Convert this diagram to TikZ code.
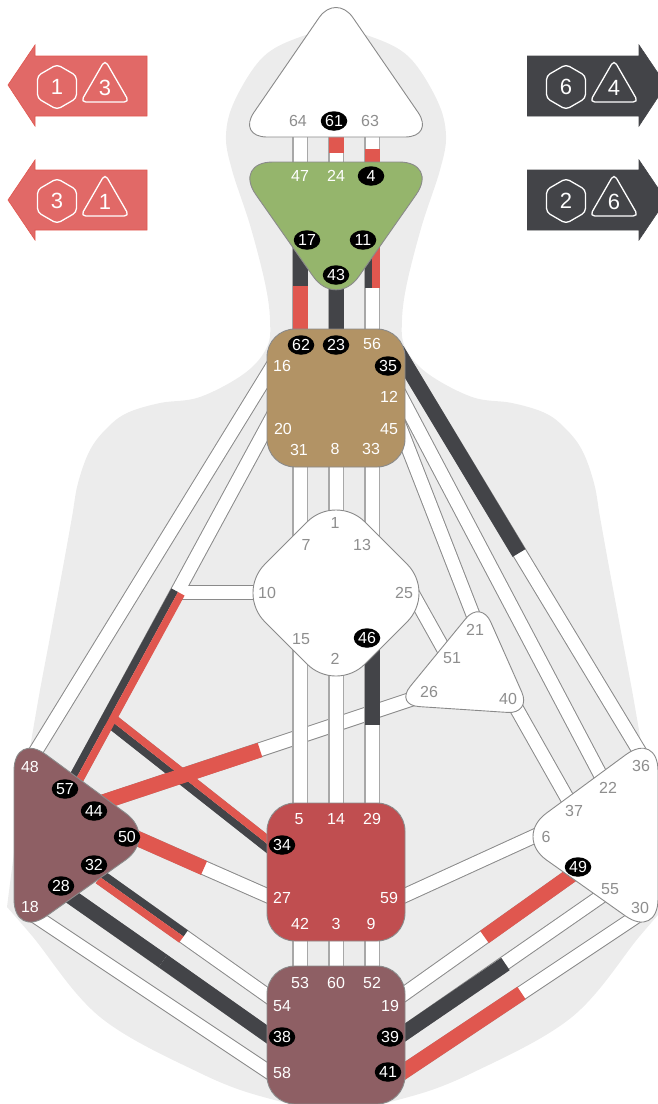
\documentclass[tikz,border=0pt]{standalone}
\usepackage{fontspec}
\setmainfont{Liberation Sans}
\usetikzlibrary{calc,shapes.geometric}
\definecolor{bodybg}{HTML}{ECECEC}
\definecolor{rim}{HTML}{8A8A8A}
\definecolor{softrim}{HTML}{A8A8A8}
\definecolor{dimtext}{HTML}{8E8E8E}
\definecolor{redact}{HTML}{E0574F}
\definecolor{inkact}{HTML}{434448}
\definecolor{ajnagreen}{HTML}{95B56C}
\definecolor{throatbrown}{HTML}{B29365}
\definecolor{sacralred}{HTML}{C04E50}
\definecolor{rootmauve}{HTML}{8E5F64}
\definecolor{crossred}{HTML}{E16967}
\tikzset{
  chanedge/.style ={draw=rim, line width=15pt},
  chanfill/.style ={draw=white, line width=13pt},
  vertedge/.style ={draw=softrim, line width=15.4pt},
  actfull/.style  ={line width=15pt},
  acthalf/.style  ={line width=7.5pt},
  centre/.style   ={draw=rim, line width=0.9pt, rounded corners=#1},
  blockc/.style   ={draw=rim, line width=0.9pt, rounded corners=28pt,
                    minimum size=138pt, inner sep=0pt},
  gate/.style     ={font=\fontsize{16}{16}\selectfont, inner sep=0pt, text=dimtext},
  gatew/.style    ={gate, text=white},
  gateb/.style    ={gate, text=white, fill=black, ellipse, minimum width=26.5pt,
                    minimum height=19.5pt},
  hexbadge/.style ={draw=white, line width=1.3pt, regular polygon, regular polygon sides=6,
                    shape border rotate=30, minimum size=45pt, inner sep=0pt,
                    rounded corners=4pt, text=white, font=\fontsize{22}{22}\selectfont},
  tribadge/.style ={draw=white, line width=1.3pt, regular polygon, regular polygon sides=3,
                    minimum size=56pt, inner sep=0pt, rounded corners=5pt, text=white,
                    font=\fontsize{22}{22}\selectfont},
  redarrow/.style ={fill=crossred, draw=redact, line width=0.6pt},
  inkarrow/.style ={fill=inkact, draw=inkact, line width=0.6pt},
}
\newcommand{\fullact}[3]{\draw[actfull, draw=#1] (#2) -- (#3);}
\newcommand{\halfact}[4]{
  \draw[acthalf, draw=#1] ($(#3)!3.75pt!90:(#4)$) -- ($(#4)!3.75pt!-90:(#3)$);
  \draw[acthalf, draw=#2] ($(#3)!3.75pt!-90:(#4)$) -- ($(#4)!3.75pt!90:(#3)$);
}
\begin{document}
\begin{tikzpicture}[x=1pt,y=-1pt]
  \useasboundingbox (0,0) rectangle (658,1104);
  % body outline
  \fill[bodybg] plot[smooth, tension=0.6] coordinates {(7,907) (20,810) (37,707) (50,637) (63,567) (72,517)
      (78,483) (90,450) (107,428) (127,413) (160,403) (200,397) (245,373) (267,347) (270,320)
      (265,283) (250,225) (232,170) (226,135)
      (235,100) (263,57) (300,37) (336,30) (372,37) (409,57) (437,100) (446,135) (440,170)
      (422,225) (407,283) (402,320) (405,347) (427,373) (472,397) (512,403) (545,413) (565,428)
      (582,450) (594,483) (600,517) (609,567) (622,637) (635,707) (652,810) (665,907)}
    -- plot[smooth, tension=0.6] coordinates {(665,907) (639,937) (572,1017) (472,1073) (405,1098) (336,1110)
      (267,1098) (200,1073) (100,1017) (33,937) (7,907)} -- cycle;

  % channel ends, inside the centres
  \foreach \n/\x/\y in {p64/300/130, p47/300/170, p61/336/130, p24/336/170, p63/372/130, p4/372/170,
      p17/300/240, p62/300/335, p43/336/280, p23/336/335, p11/372/240, p56/372/335,
      p31/300/460, p7/300/545, p8/336/460, p1/336/520, p33/372/460, p13/372/545,
      p15/300/640, p5/300/810, p2/336/665, p14/336/810, p46/372/640, p29/372/810,
      p42/300/935, p53/300/975, p3/336/935, p60/336/975, p9/372/935, p52/372/975,
      p16/275/362, p48/31/759, p20/275/412, p57/72/786, p10/260/592, p34/275/850,
      p44/100/803, p26/418/697, p50/135/837.4, p27/275/899, p32/100/877, p54/275/1001,
      p28/70/896, p38/275/1040, p18/35/916, p58/275/1076,
      p59/397/899, p6/537/835, p49/575/872.5, p19/396/999.7, p55/605/893.6, p39/397/1038,
      p30/637/916, p41/397/1076, p35/397/350, p36/644/759, p12/397/389, p22/604/781.6,
      p45/397/419.5, p21/477/625, p25/405/580, p51/448/657, p37/575/812, p40/510/697,
      jc10/178/592, jc34/105/716,
      e61/336/153, e4/372/149, e17/300/286, e11/372/288, e46/372/725, e57/178/592,
      e44/260/750, e50/204/868, e32/183.5/936.5, e49/484.5/937, e39/505.5/964, e41/521.5/993,
      e35/519/553, e28/163/961}
    \coordinate (\n) at (\x,\y);

  % channels: rims first, then the white, so that crossing ones merge
  \draw[chanedge] (p44) -- (p26);
  \draw[chanfill] (p44) -- (p26);
  \foreach \pass in {chanedge,chanfill}
    \foreach \a/\b in {p16/p48, p20/p57, p10/jc10, p34/jc34, p50/p27, p32/p54, p28/p38, p18/p58,
        p59/p6, p49/p19, p55/p39, p30/p41, p35/p36, p12/p22, p45/p21, p25/p51, p37/p40}
      \draw[\pass] (\a) -- (\b);
  \foreach \a/\b in {p64/p47, p61/p24, p63/p4, p17/p62, p43/p23, p11/p56,
      p31/p7, p8/p1, p33/p13, p15/p5, p2/p14, p46/p29, p42/p53, p3/p60, p9/p52}{
    \draw[vertedge] (\a) -- (\b);
    \draw[chanfill] (\a) -- (\b);
  }

  % activations
  \fullact{redact}{p61}{e61}
  \fullact{redact}{p4}{e4}
  \fullact{inkact}{p17}{e17}
  \fullact{redact}{p62}{e17}
  \fullact{inkact}{p43}{p23}
  \halfact{redact}{inkact}{p11}{e11}
  \fullact{inkact}{p46}{e46}
  \fullact{inkact}{p35}{e35}
  \halfact{inkact}{redact}{p34}{jc34}
  \halfact{inkact}{redact}{p57}{e57}
  \fullact{redact}{p44}{e44}
  \fullact{redact}{p50}{e50}
  \halfact{inkact}{redact}{p32}{e32}
  \fullact{inkact}{p28}{e28}
  \fullact{inkact}{p38}{e28}
  \fullact{redact}{p49}{e49}
  \fullact{inkact}{p39}{e39}
  \fullact{redact}{p41}{e41}

  % centres
  \draw[centre=30pt, fill=white] (237,137) -- (336,-7) -- (435,137) -- cycle;
  \draw[centre=40pt, fill=ajnagreen] (233,162) -- (439,162) -- (336,309) -- cycle;
  \node[blockc, fill=throatbrown] (throat) at (336,398) {};
  \draw[centre=41pt, fill=white] (336,493) -- (436,593) -- (336,693) -- (236,593) -- cycle;
  \draw[centre=24pt, fill=white] (481,600) -- (531.5,714) -- (395,705) -- cycle;
  \node[blockc, fill=sacralred] (sacral) at (336,872) {};
  \node[blockc, fill=rootmauve] (root) at (336,1035) {};
  \draw[centre=40pt, fill=rootmauve] (14,731) -- (158,837) -- (14,939) -- cycle;
  \draw[centre=40pt, fill=white] (658,731) -- (514,837) -- (658,939) -- cycle;

  % gates
  \foreach \n/\x/\y in {64/298/121, 63/370/121, 1/335/523, 7/306/545, 13/362/545, 10/267/593, 25/404/593,
      15/301/639, 2/335/659, 21/475/630, 51/452/658, 26/429/692, 40/508/699,
      36/641/766, 22/608/788, 37/574/811, 6/546/837, 55/610/889, 30/640/908}
    \node[gate] (g\n) at (\x,\y) {\n};
  \foreach \n/\x/\y in {47/300/176, 24/336/176, 56/372/344, 16/282/366, 12/389/397, 20/283/429, 45/389/429,
      31/299/450, 8/335/449, 33/371/449, 48/30/767, 18/30/907, 5/299/819, 14/336/819, 29/372/819,
      27/282/898, 59/389/898, 42/300/924, 3/336/924, 9/371/924, 53/300/983, 60/336/983, 52/372/983,
      54/282/1006, 19/390/1006, 58/282/1073}
    \node[gatew] (g\n) at (\x,\y) {\n};
  \foreach \n/\x/\y in {61/334/121, 4/371/176, 17/307/240, 11/363/240, 43/336/275, 62/301/345, 23/336/345,
      35/388/366, 46/367/638, 57/65/789, 44/94/811, 50/127/837, 32/94/865, 28/61/886, 34/282/845,
      38/282/1037, 39/390/1037, 41/388/1072, 49/578/867}
    \node[gateb] (g\n) at (\x,\y) {\n};

  % crosses
  \draw[redarrow] (8,85) -- (35,45) -- (35,56) -- (147,56) -- (147,116) -- (35,116) -- (35,126) -- cycle;
  \draw[redarrow] (8,200) -- (35,160) -- (35,170) -- (147,170) -- (147,230) -- (35,230) -- (35,240) -- cycle;
  \draw[inkarrow] (666,85) -- (639,45) -- (639,56) -- (527.5,56) -- (527.5,116) -- (639,116) -- (639,126) -- cycle;
  \draw[inkarrow] (666,200) -- (639,160) -- (639,170) -- (527.5,170) -- (527.5,230) -- (639,230) -- (639,240) -- cycle;
  \node[hexbadge] (hexa) at (57,87) {1};
  \node[tribadge] (tria) at (105,88) {3};
  \node[hexbadge] (hexb) at (57,201) {3};
  \node[tribadge] (trib) at (105,202) {1};
  \node[hexbadge] (hexc) at (566,87) {6};
  \node[tribadge] (tric) at (614,88) {4};
  \node[hexbadge] (hexd) at (566,201) {2};
  \node[tribadge] (trid) at (614,202) {6};
\end{tikzpicture}
\end{document}
